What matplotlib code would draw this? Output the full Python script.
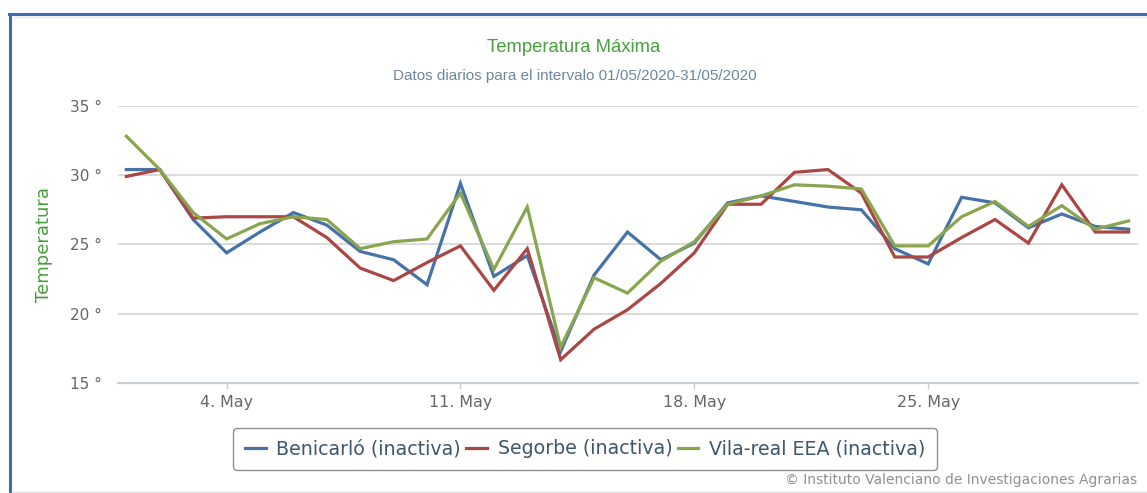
import matplotlib
matplotlib.use("Agg")
import matplotlib.pyplot as plt
from matplotlib.lines import Line2D

# ---- data ----
days = list(range(1, 32))
benicarlo = [30.4, 30.4, 26.8, 24.4, 25.9, 27.3, 26.4, 24.5, 23.9, 22.1, 29.4,
             22.7, 24.2, 17.3, 22.8, 25.9, 23.9, 25.1, 28.0, 28.5, 28.1, 27.7,
             27.5, 24.7, 23.6, 28.4, 28.0, 26.2, 27.2, 26.3, 26.1]
segorbe = [29.9, 30.4, 26.9, 27.0, 27.0, 27.0, 25.5, 23.3, 22.4, 23.7, 24.9,
           21.7, 24.7, 16.7, 18.9, 20.3, 22.2, 24.4, 27.9, 27.9, 30.2, 30.4,
           28.7, 24.1, 24.1, 25.5, 26.8, 25.1, 29.3, 25.9, 25.9]
vilareal = [32.8, 30.4, 27.3, 25.4, 26.5, 27.0, 26.8, 24.7, 25.2, 25.4, 28.7,
            23.2, 27.7, 17.6, 22.6, 21.5, 23.8, 25.2, 27.9, 28.5, 29.3, 29.2,
            29.0, 24.9, 24.9, 27.0, 28.1, 26.3, 27.8, 26.1, 26.7]
series_names = ["Benicarló (inactiva)", "Segorbe (inactiva)", "Vila-real EEA (inactiva)"]
series_colors = ["#4572A7", "#AA4643", "#89A54E"]
xtick_pos = [4, 11, 18, 25]
xtick_labels = ["4. May", "11. May", "18. May", "25. May"]
ytick_pos = [15, 20, 25, 30, 35]
ytick_labels = [f"{v} °" for v in ytick_pos]
title = "Temperatura Máxima"
subtitle = "Datos diarios para el intervalo 01/05/2020-31/05/2020"
ylabel = "Temperatura"
credits = "© Instituto Valenciano de Investigaciones Agrarias"

W, H = 1147, 493
fig = plt.figure(figsize=(W / 100, H / 100), dpi=100)
fig.patch.set_facecolor("white")

def fx(px):
    return px / W

def fy(py):
    return (H - py) / H

ax = fig.add_axes([fx(118), fy(383.3), fx(1138) - fx(118), fy(105.7) - fy(383.3)])
ax.set_facecolor("white")

for vals, name, col in zip([benicarlo, segorbe, vilareal], series_names, series_colors):
    ax.plot(days, vals, color=col, lw=2.3, label=name, zorder=3,
            solid_joinstyle="miter", clip_on=False)

ax.set_xlim(0.75, 31.28)
ax.set_ylim(15, 35)
ax.set_yticks(ytick_pos)
ax.set_yticklabels(ytick_labels)
ax.set_xticks(xtick_pos)
ax.set_xticklabels(xtick_labels)
ax.grid(axis="y", color="#d4d4d4", lw=1.2, zorder=0)
ax.grid(axis="x", visible=False)
for s in ["left", "right", "top"]:
    ax.spines[s].set_visible(False)
ax.spines["bottom"].set_color("#c8cdd3")
ax.spines["bottom"].set_linewidth(1.6)
ax.tick_params(axis="y", length=0, pad=11.5, labelsize=11, labelcolor="#666666")
ax.tick_params(axis="x", length=4, width=1, color="#c8cdd3", pad=4.5,
               labelsize=11.4, labelcolor="#666666", direction="out")

fig.text(fx(44), fy(245), ylabel, rotation=90, ha="center", va="center",
         color="#46a03c", fontsize=13)
fig.text(fx(574), fy(47), title, ha="center", va="center", color="#46a03c",
         fontsize=13.3, family="Liberation Sans")
fig.text(fx(575), fy(76), subtitle, ha="center", va="center", color="#6D869F",
         fontsize=11, family="Liberation Sans")
fig.text(fx(1137), fy(480), credits, ha="right", va="center", color="#909090",
         fontsize=10)

leg = ax.legend(loc="center", bbox_to_anchor=(fx(585), fy(448.7)),
                bbox_transform=fig.transFigure, ncol=3, frameon=True,
                fancybox=True, edgecolor="#909090", facecolor="white",
                fontsize=13.7, handlelength=1.1, handletextpad=0.55,
                columnspacing=0.28, borderpad=0.6, framealpha=1)
for t in leg.get_texts():
    t.set_color("#3E576F")
leg.get_frame().set_linewidth(1.0)

# container borders
fig.add_artist(Line2D([fx(10), fx(10)], [0, fy(13.5)], color="#3b6cb5", lw=2.2,
                      transform=fig.transFigure))
fig.add_artist(Line2D([fx(9), 1], [fy(13.5), fy(13.5)], color="#3b6cb5", lw=2.2,
                      transform=fig.transFigure))
fig.add_artist(Line2D([fx(15), 1], [fy(17), fy(17)], color="#e4e4e4", lw=1,
                      transform=fig.transFigure))
fig.add_artist(Line2D([fx(12), 1], [fy(491.5), fy(491.5)], color="#e0e0e0", lw=1,
                      transform=fig.transFigure))

fig.savefig("out.png", dpi=100, facecolor="white")
